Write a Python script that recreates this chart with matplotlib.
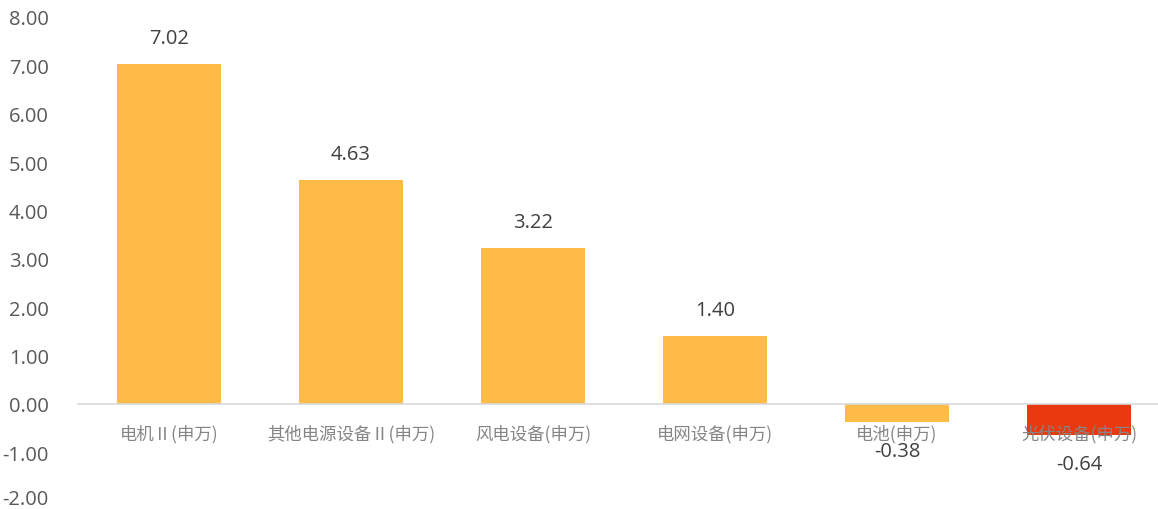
import matplotlib
matplotlib.use('Agg')
import matplotlib.pyplot as plt
import matplotlib.transforms as mtransforms

plt.rcParams['font.family'] = ['Noto Sans CJK SC', 'DejaVu Sans']

categories = ['电机Ⅱ(申万)', '其他电源设备Ⅱ(申万)', '风电设备(申万)', '电网设备(申万)', '电池(申万)', '光伏设备(申万)']
values = [7.02, 4.63, 3.22, 1.40, -0.38, -0.64]
bar_colors = ['#FFBB47', '#FFBB47', '#FFBB47', '#FFBB47', '#FFBB47', '#E83A0E']
yticks = [-2, -1, 0, 1, 2, 3, 4, 5, 6, 7, 8]

num_font = ['Open Sans', 'DejaVu Sans']

fig = plt.figure(figsize=(11.58, 5.10), dpi=100)
ax = fig.add_axes([78 / 1158, 8.25 / 510, 1092 / 1158, 483.75 / 510])

x = list(range(len(categories)))
ax.bar(x, values, width=0.57, color=bar_colors, zorder=1)

ax.set_xlim(-0.5, len(categories) - 0.5)
ax.set_ylim(-2, 8)
ax.set_yticks(yticks)
ax.set_yticklabels(['%.2f' % t for t in yticks], fontsize=14.5, color='#595959',
                   family=num_font)
ax.tick_params(axis='y', length=0, pad=21)

# keep the lowest tick label inside the canvas
lowest = ax.get_yticklabels()[0]
lowest.set_transform(lowest.get_transform() +
                     mtransforms.ScaledTranslation(0, 4 / 100, fig.dpi_scale_trans))

for s in ['top', 'right', 'left']:
    ax.spines[s].set_visible(False)
ax.spines['bottom'].set_position(('data', 0))
ax.spines['bottom'].set_color('#D9D9D9')
ax.spines['bottom'].set_linewidth(1.2)
ax.set_xticks([])

# category labels under the zero line
for i, c in enumerate(categories):
    off = mtransforms.offset_copy(ax.transData, fig=fig, x=0, y=-29, units='dots')
    ax.text(i, 0, c, transform=off, ha='center', va='center', fontsize=12.5,
            color='#858585', zorder=3)

# data labels
for i, v in enumerate(values):
    dy = 26 if v >= 0 else -29
    off = mtransforms.offset_copy(ax.transData, fig=fig, x=0, y=dy, units='dots')
    ax.text(i, v, '%.2f' % v, transform=off, ha='center', va='center',
            fontsize=14.5, color='#404040', family=num_font)

fig.savefig('out.png', dpi=100)
